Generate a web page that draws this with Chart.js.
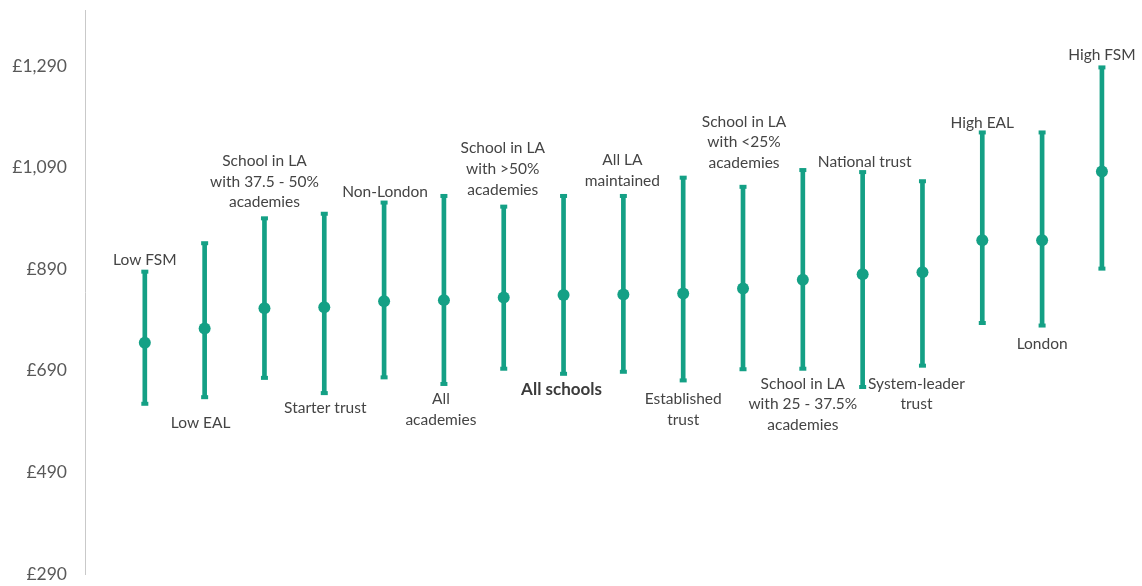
<!DOCTYPE html>
<html>
<head>
<meta charset="utf-8">
<script src="https://cdn.jsdelivr.net/npm/chart.js@4"></script>
<style>
  html, body { margin: 0; padding: 0; background: #fff; }
  #wrap { width: 1142px; height: 586px; position: relative; }
</style>
</head>
<body>
<div id="wrap"><canvas id="rangeChart"></canvas></div>
<script>
// spending per pupil ranges by school group
const groups = [
  ['Low FSM'],
  ['Low EAL'],
  ['School in LA', 'with 37.5 - 50%', 'academies'],
  ['Starter trust'],
  ['Non-London'],
  ['All', 'academies'],
  ['School in LA', 'with >50%', 'academies'],
  ['All schools'],
  ['All LA', 'maintained'],
  ['Established', 'trust'],
  ['School in LA', 'with <25%', 'academies'],
  ['School in LA', 'with 25 - 37.5%', 'academies'],
  ['National trust'],
  ['System-leader', 'trust'],
  ['High EAL'],
  ['London'],
  ['High FSM']
];
const lowValues  = [625, 638, 676, 646, 677, 664, 694, 684, 688, 671, 693, 694, 658, 700, 784, 779, 891];
const midValues  = [745, 773, 813, 815, 827, 829, 834, 839, 840, 842, 852, 869, 880, 884, 947, 947, 1082];
const highValues = [885, 941, 990, 999, 1021, 1034, 1013, 1034, 1034, 1070, 1052, 1085, 1081, 1063, 1159, 1159, 1287];
const yTicks = [290, 490, 690, 890, 1090, 1290];

// where each group's label sits: side of the bar, horizontal shift, gap from the cap
const labelSide = ['above', 'below', 'above', 'below', 'above', 'below', 'above', 'below', 'above',
                   'below', 'above', 'below', 'above', 'below', 'above', 'below', 'above'];
const labelShift = [0, -4, 0, 1, 1, -3, -1, -2, -1, 0, 1, 0, 2, -6, 0, 0, 0];
const labelGap = [12, 26, 16, 15, 11, 15, 17, 16, 15, 19, 24, 15, 10, 18, 9, 18, 12];

const teal = '#14a085';
const boldGroup = 'All schools';

const groupLabels = {
  id: 'groupLabels',
  afterDatasetsDraw(chart) {
    const { ctx, scales: { x, y } } = chart;
    const lineH = 20.6;
    ctx.save();
    ctx.textAlign = 'center';
    ctx.textBaseline = 'middle';
    groups.forEach((lines, i) => {
      const bold = lines[0] === boldGroup;
      ctx.font = bold ? 'bold 17px Lato' : '15.5px Lato';
      ctx.fillStyle = bold ? '#3b3b3b' : '#444444';
      const cx = x.getPixelForValue(i) + labelShift[i];
      if (labelSide[i] === 'above') {
        const last = y.getPixelForValue(highValues[i]) - labelGap[i];
        lines.forEach((t, k) => ctx.fillText(t, cx, last - (lines.length - 1 - k) * lineH));
      } else {
        const first = y.getPixelForValue(lowValues[i]) + labelGap[i];
        lines.forEach((t, k) => ctx.fillText(t, cx, first + k * lineH));
      }
    });
    ctx.restore();
  }
};

new Chart(document.getElementById('rangeChart'), {
  type: 'scatter',
  data: {
    datasets: [
      {
        label: 'Average',
        data: midValues.map((v, i) => ({ x: i, y: v })),
        pointRadius: 6,
        pointHoverRadius: 6,
        backgroundColor: teal,
        borderWidth: 0,
        order: 0
      },
      {
        label: 'Upper',
        data: highValues.map((v, i) => ({ x: i, y: v })),
        pointStyle: 'line',
        pointRadius: 3.5,
        borderColor: teal,
        borderWidth: 4,
        order: 1
      },
      {
        label: 'Lower',
        data: lowValues.map((v, i) => ({ x: i, y: v })),
        pointStyle: 'line',
        pointRadius: 3.5,
        borderColor: teal,
        borderWidth: 4,
        order: 1
      },
      {
        type: 'bar',
        label: 'Range',
        data: lowValues.map((v, i) => ({ x: i, y: [v, highValues[i]] })),
        backgroundColor: teal,
        barThickness: 4,
        order: 2
      }
    ]
  },
  options: {
    responsive: true,
    maintainAspectRatio: false,
    animation: false,
    layout: { autoPadding: false, padding: { top: 10, bottom: 12, left: 0, right: 0 } },
    plugins: {
      legend: { display: false },
      tooltip: { enabled: false }
    },
    scales: {
      x: {
        type: 'linear',
        min: -1,
        max: 16.67,
        offset: false,
        display: false
      },
      y: {
        min: 290,
        max: 1400,
        afterBuildTicks: scale => { scale.ticks = yTicks.map(v => ({ value: v })); },
        afterFit: scale => {
          scale.width = 85;
          // tick padding is only wanted horizontally
          scale.paddingTop = 0;
          scale.paddingBottom = 0;
        },
        grid: { display: false, drawTicks: false },
        border: { display: true, color: '#c9c9c9', width: 1 },
        ticks: {
          padding: 18,
          color: '#595959',
          font: { family: 'Lato', size: 17.5 },
          callback: v => '£' + v.toLocaleString('en-GB')
        }
      }
    }
  },
  plugins: [groupLabels]
});
</script>
</body>
</html>
